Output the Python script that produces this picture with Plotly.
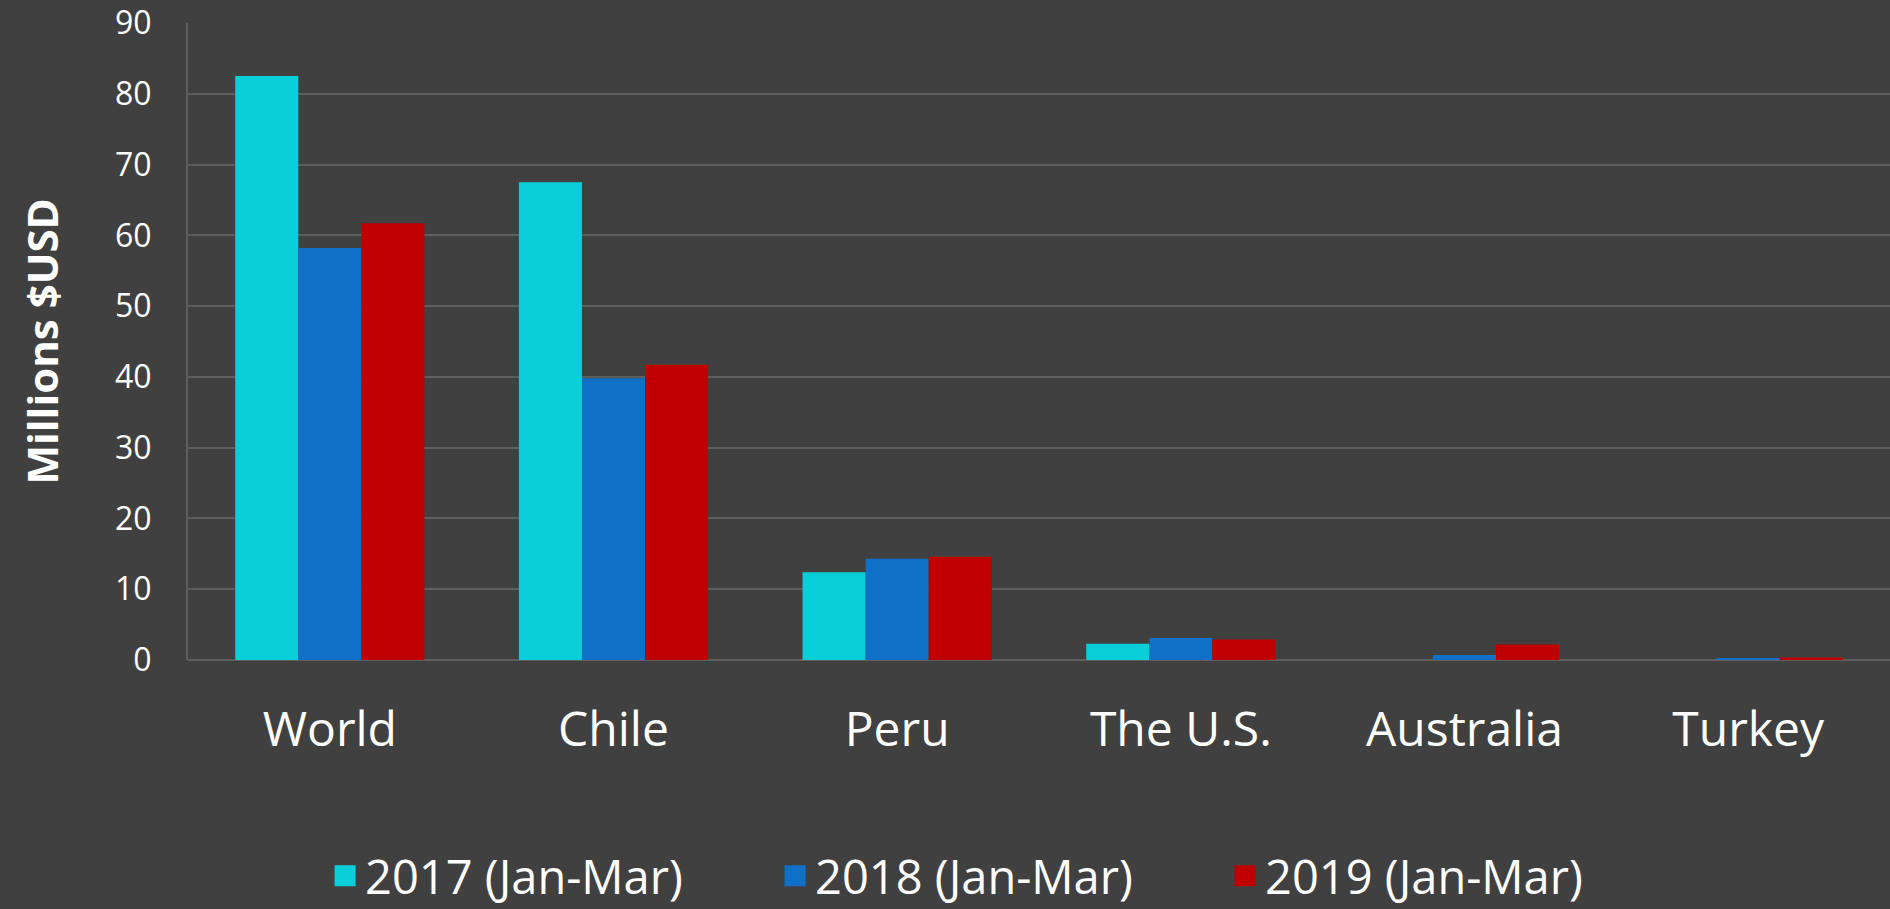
import plotly.graph_objects as go

categories = ["World", "Chile", "Peru", "The U.S.", "Australia", "Turkey"]
series_names = ["2017 (Jan-Mar)", "2018 (Jan-Mar)", "2019 (Jan-Mar)"]
values_2017 = [82.5, 67.5, 12.4, 2.3, 0.0, 0.0]
values_2018 = [58.2, 39.8, 14.3, 3.1, 0.7, 0.2]
values_2019 = [61.7, 41.7, 14.6, 2.9, 2.2, 0.35]
colors = ["#0BCFD8", "#0E70C6", "#C00000"]
y_ticks = [0, 10, 20, 30, 40, 50, 60, 70, 80, 90]

FONT = "Open Sans"
GRID = "#5E5E5E"
BG = "#404040"

fig = go.Figure()
for name, vals, col in zip(series_names, [values_2017, values_2018, values_2019], colors):
    fig.add_trace(go.Bar(x=categories, y=vals, name=name, marker=dict(color=col, line=dict(width=0)),
                         showlegend=False))
# legend proxies (larger square swatches)
for name, col in zip(series_names, colors):
    fig.add_trace(go.Scatter(x=[None], y=[None], mode="markers", name=name,
                             marker=dict(symbol="square", size=16, color=col,
                                         line=dict(color=col, width=5))))

fig.update_layout(
    width=1890, height=909,
    paper_bgcolor=BG, plot_bgcolor=BG,
    margin=dict(l=188, r=0, t=23, b=249),
    barmode="group", bargap=0.333, bargroupgap=0,
    font=dict(family=FONT, color="#FFFFFF"),
    legend=dict(orientation="h", xref="container", yref="container",
                x=0.172, xanchor="left", y=0.036, yanchor="middle",
                font=dict(size=47, family=FONT, color="#FFFFFF"),
                entrywidth=405, entrywidthmode="pixels",
                bgcolor="rgba(0,0,0,0)", itemclick=False),
)
fig.update_xaxes(
    showgrid=False, showline=False, ticks="",
    tickfont=dict(size=48, family=FONT, color="#FFFFFF"),
    ticklabelstandoff=37,
)
fig.update_yaxes(
    range=[0, 90], tickvals=y_ticks, showgrid=True, gridcolor=GRID, gridwidth=2,
    showline=True, linecolor=GRID, linewidth=2, zeroline=True, zerolinecolor=GRID, zerolinewidth=2,
    ticks="", ticklabelstandoff=28,
    tickfont=dict(size=32, family=FONT, color="#FFFFFF"),
    title=dict(text="<b>Millions $USD</b>", font=dict(size=42, family=FONT, color="#FFFFFF"), standoff=43),
)

fig.write_html("out.html", config={"displayModeBar": False},
               post_script="document.body.style.margin='0';document.body.style.padding='0';")
